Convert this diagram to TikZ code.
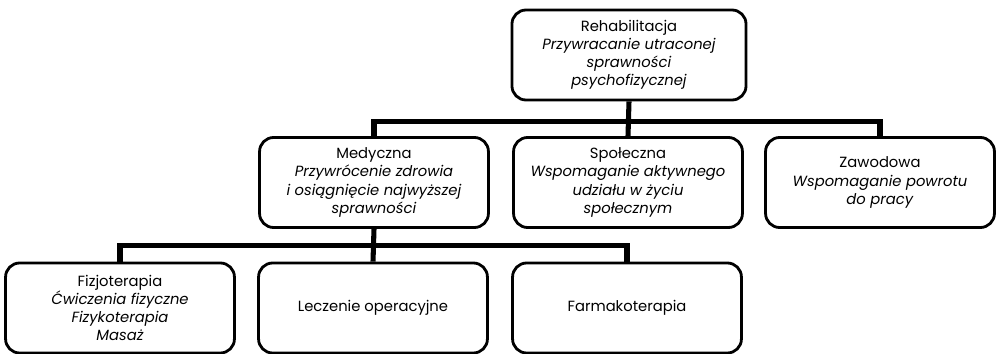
\documentclass[tikz,border=0pt]{standalone}
\usepackage{fontspec}
\setmainfont{Poppins}

\begin{document}
\begin{tikzpicture}[x=0.025cm, y=-0.025cm,
    box/.style={draw, line width=2pt, rounded corners=10pt, align=center,
      minimum width=5.72cm, minimum height=2.25cm, inner sep=2pt,
      font=\fontsize{10.5}{12.9}\selectfont},
    conn/.style={line width=3.6pt}]
  \useasboundingbox (0,0) rectangle (999,354);
  % top level
  \node[box, minimum width=5.85cm] (rehab) at (629,55)
    {Rehabilitacja\\ \textit{Przywracanie utraconej}\\ \textit{sprawności}\\ \textit{psychofizycznej}};
  % second row
  \node[box] (med) at (374,182.5)
    {Medyczna\\ \textit{Przywrócenie zdrowia}\\ \textit{i osiągnięcie najwyższej}\\ \textit{sprawności}};
  \node[box] (spol) at (628,182.5)
    {Społeczna\\ \textit{Wspomaganie aktywnego}\\ \textit{udziału w życiu}\\ \textit{społecznym}};
  \node[box] (zaw) at (880,182.5)
    {Zawodowa\\ \textit{Wspomaganie powrotu}\\ \textit{do pracy}};
  % third row
  \node[box] (fizjo) at (120,308)
    {Fizjoterapia\\ \textit{Ćwiczenia fizyczne}\\ \textit{Fizykoterapia}\\ \textit{Masaż}};
  \node[box] (lecz) at (373,308) {Leczenie operacyjne};
  \node[box] (farm) at (627,308) {Farmakoterapia};
  % connectors
  \draw[conn] (med.north) -- ++(0,-15) -| (zaw.north);
  \draw[conn] (rehab.south) -- (spol.north);
  \draw[conn] (fizjo.north) -- ++(0,-16) -| (farm.north);
  \draw[conn] (med.south) -- (lecz.north);
\end{tikzpicture}
\end{document}
